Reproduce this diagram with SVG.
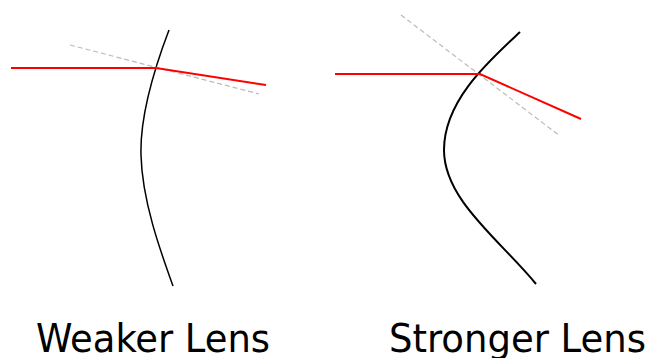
<svg xmlns="http://www.w3.org/2000/svg" width="653" height="358" viewBox="0 0 653 358">
<style>
.lens{fill:none;stroke:#000}
.ray{fill:none;stroke:#f00;stroke-width:2}
.normal{fill:none;stroke:#bbb;stroke-width:1.2;stroke-dasharray:5 3}
.label{font-family:"DejaVu Sans Condensed","DejaVu Sans",sans-serif;font-size:39px;fill:#000}
</style>
<g id="weaker">
<path class="lens" stroke-width="1.5" d="M169,30 C150,80 140,120 141,155 C142,200 160,250 173,286"/>
<line class="normal" x1="70" y1="45" x2="259" y2="94"/>
<polyline class="ray" points="11,68 156,68 266,85"/>
<text class="label" x="36" y="352" textLength="234" lengthAdjust="spacingAndGlyphs">Weaker Lens</text>
</g>
<g id="stronger">
<path class="lens" stroke-width="2" d="M520,32 C490,60 444,100 444,150 C444,200 500,240 536,284"/>
<line class="normal" stroke-dasharray="4 3" x1="401" y1="15" x2="560" y2="136"/>
<polyline class="ray" points="335,74 480,74 581,119"/>
<text class="label" x="389" y="352" textLength="257" lengthAdjust="spacingAndGlyphs">Stronger Lens</text>
</g>
</svg>
